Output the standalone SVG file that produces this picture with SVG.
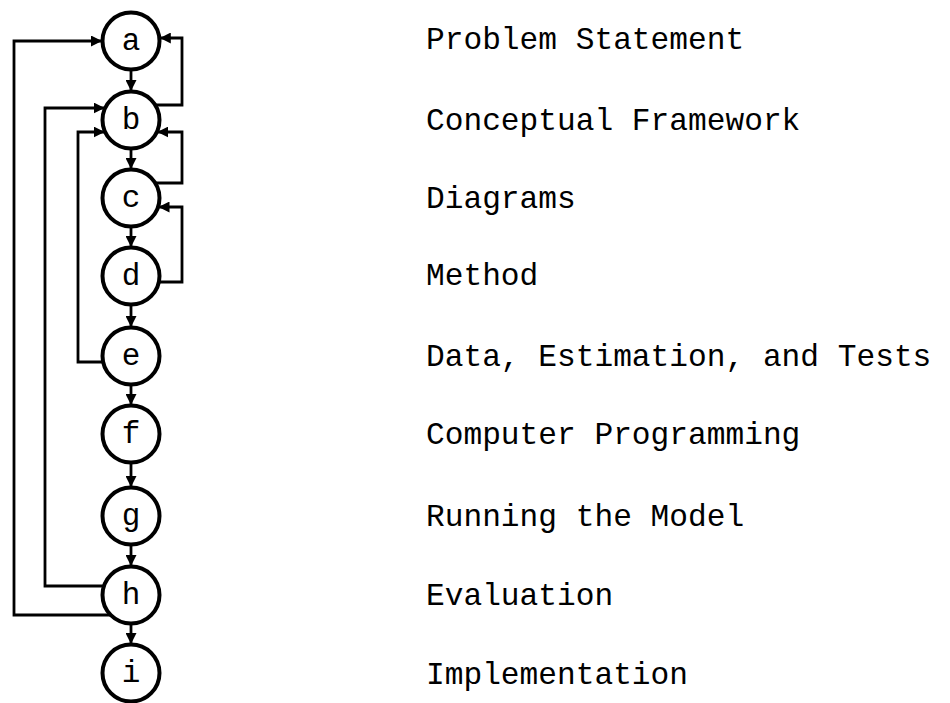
<svg xmlns="http://www.w3.org/2000/svg" width="950" height="703" viewBox="0 0 950 703">
<defs>
<marker id="ah" viewBox="0 0 10 10" refX="10" refY="5" markerWidth="11" markerHeight="11" markerUnits="userSpaceOnUse" orient="auto">
<path d="M0,0 L10,5 L0,10 Z" fill="#000"/>
</marker>
</defs>
<style>
.n circle{fill:#fff;stroke:#000;stroke-width:4}
.n text{font-family:"Liberation Mono","Courier New",monospace;font-size:31px;text-anchor:middle;fill:#000}
.lbl{font-family:"Liberation Mono","Courier New",monospace;font-size:31.2px;fill:#000}
#connectors path{fill:none;stroke:#000;stroke-width:2.8;marker-end:url(#ah)}
</style>
<rect width="950" height="703" fill="#fff"/>
<g id="connectors">
<path d="M131,69 V91"/>
<path d="M131,148 V169"/>
<path d="M131,226 V247"/>
<path d="M131,304 V327"/>
<path d="M131,384 V405"/>
<path d="M131,462 V487"/>
<path d="M131,544 V566"/>
<path d="M131,623 V644"/>
<path d="M111.4,615 H14 V41 H102"/>
<path d="M104.5,586 H45 V108 H104.7"/>
<path d="M103.6,362 H78 V132 H104.7"/>
<path d="M154.6,105 H182 V38 H159.8"/>
<path d="M154.6,183 H182 V132 H157.3"/>
<path d="M158.4,282 H182 V207 H158.5"/>
</g>
<g id="node-a" class="n"><circle cx="131" cy="41" r="28.5"/><text x="131" y="50">a</text></g>
<g id="node-b" class="n"><circle cx="131" cy="120" r="28.5"/><text x="131" y="129">b</text></g>
<g id="node-c" class="n"><circle cx="131" cy="198" r="28.5"/><text x="131" y="207">c</text></g>
<g id="node-d" class="n"><circle cx="131" cy="276" r="28.5"/><text x="131" y="285">d</text></g>
<g id="node-e" class="n"><circle cx="131" cy="356" r="28.5"/><text x="131" y="365">e</text></g>
<g id="node-f" class="n"><circle cx="131" cy="434" r="28.5"/><text x="131" y="443">f</text></g>
<g id="node-g" class="n"><circle cx="131" cy="516" r="28.5"/><text x="131" y="525">g</text></g>
<g id="node-h" class="n"><circle cx="131" cy="595" r="28.5"/><text x="131" y="604">h</text></g>
<g id="node-i" class="n"><circle cx="131" cy="673" r="28.5"/><text x="131" y="682">i</text></g>
<g id="labels">
<text class="lbl" x="426" y="49">Problem Statement</text>
<text class="lbl" x="426" y="130">Conceptual Framework</text>
<text class="lbl" x="426" y="208">Diagrams</text>
<text class="lbl" x="426" y="285">Method</text>
<text class="lbl" x="426" y="366">Data, Estimation, and Tests</text>
<text class="lbl" x="426" y="444">Computer Programming</text>
<text class="lbl" x="426" y="526">Running the Model</text>
<text class="lbl" x="426" y="605">Evaluation</text>
<text class="lbl" x="426" y="684">Implementation</text>
</g>
</svg>
